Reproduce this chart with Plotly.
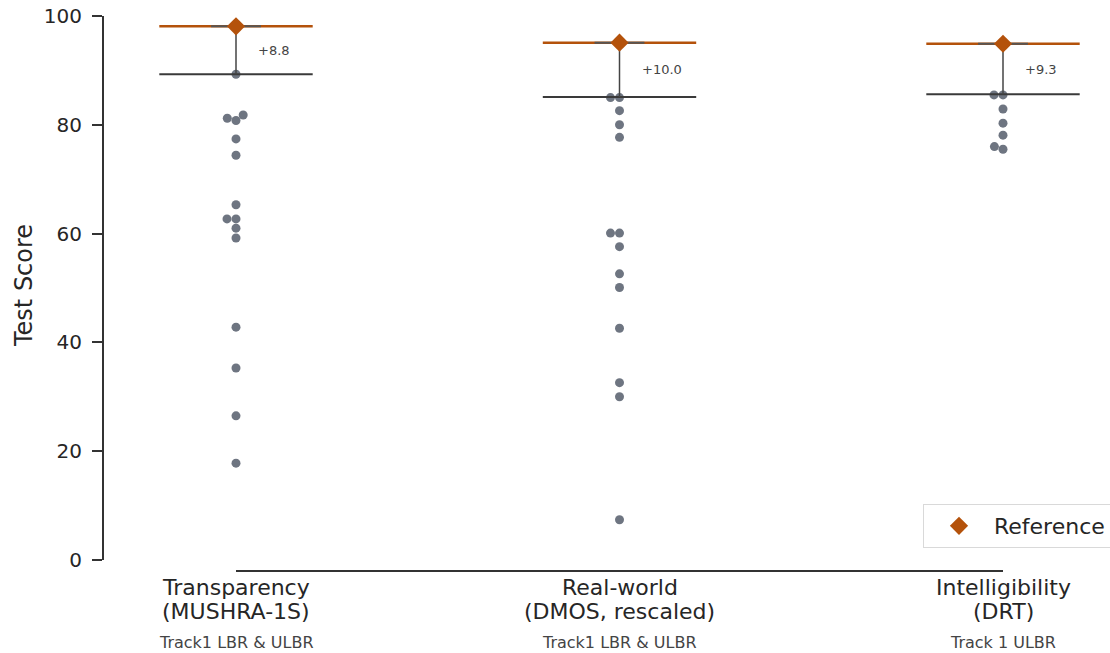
import plotly.graph_objects as go

# ---------------- data ----------------
cat_titles = ["Transparency", "Real-world", "Intelligibility"]
cat_methods = ["(MUSHRA-1S)", "(DMOS, rescaled)", "(DRT)"]
cat_tracks = ["Track1 LBR & ULBR", "Track1 LBR & ULBR", "Track 1 ULBR"]

reference_scores = [98.1, 95.1, 94.9]
best_scores = [89.3, 85.1, 85.6]

transparency_scores = [89.3, 81.8, 81.2, 80.8, 77.4, 74.4, 65.3, 62.7, 62.7,
                       61.0, 59.2, 42.8, 35.3, 26.5, 17.8]
realworld_scores = [85.0, 85.0, 82.6, 80.0, 77.7, 60.1, 60.1, 57.6, 52.6,
                    50.1, 42.6, 32.6, 30.0, 7.4]
intelligibility_scores = [85.5, 85.5, 82.9, 80.3, 78.1, 76.0, 75.5]
system_scores = [transparency_scores, realworld_scores, intelligibility_scores]

# ---------------- styling / layout constants ----------------
W, H = 1110, 653
SCR_LEFT, SCR_TOP, SCR_BOTTOM, SCR_RIGHT = 104, 16, 560, 1100
M_L = SCR_LEFT
M_T = SCR_TOP
M_B = H - SCR_BOTTOM
M_R = W - SCR_RIGHT
PLOT_W = W - M_L - M_R
PLOT_H = H - M_T - M_B
X_RANGE = [-0.3442, -0.3442 + PLOT_W / 383.5]
Y_RANGE = [0, 100]
PX_PER_X = PLOT_W / (X_RANGE[1] - X_RANGE[0])
PX_PER_Y = PLOT_H / (Y_RANGE[1] - Y_RANGE[0])

ORANGE = "#b4520b"
DOT = "#6e7581"
DARK = "#3a3a3a"
TEXT = "#262626"
FONT = "DejaVu Sans"
DOT_D = 9.0  # dot diameter in px


def swarm_offsets(values):
    """Simple beeswarm: returns x offsets (data units) for values."""
    order = sorted(range(len(values)), key=lambda k: values[k])
    placed = []
    offs = [0.0] * len(values)
    for k in order:
        y = values[k] * PX_PER_Y
        cands = [0.0]
        for (px, py) in placed:
            dy = abs(py - y)
            if dy < DOT_D:
                dx = (DOT_D ** 2 - dy ** 2) ** 0.5
                cands += [px - dx, px + dx]
        cands = sorted(set(cands), key=lambda c: (round(abs(c), 6), c))
        for c in cands:
            ok = all(((c - px) ** 2 + (y - py) ** 2) >= DOT_D ** 2 - 1e-6
                     for (px, py) in placed)
            if ok:
                placed.append((c, y))
                offs[k] = c / PX_PER_X
                break
    return offs


def paper_y(screen_y):
    return (SCR_BOTTOM - screen_y) / PLOT_H


def paper_x(screen_x):
    return (screen_x - SCR_LEFT) / PLOT_W


fig = go.Figure()

# swarm points
for i, vals in enumerate(system_scores):
    offs = swarm_offsets(vals)
    fig.add_trace(go.Scatter(
        x=[i + o for o in offs], y=vals, mode="markers",
        marker=dict(color=DOT, size=DOT_D, line=dict(width=0)),
        showlegend=False, hoverinfo="y", cliponaxis=False))

# best-system lines
bx, by = [], []
for i, b in enumerate(best_scores):
    bx += [i - 0.2, i + 0.2, None]
    by += [b, b, None]
fig.add_trace(go.Scatter(x=bx, y=by, mode="lines",
                         line=dict(color=DARK, width=2),
                         showlegend=False, hoverinfo="skip", cliponaxis=False))

# reference lines
rx, ry = [], []
for i, r in enumerate(reference_scores):
    rx += [i - 0.2, i + 0.2, None]
    ry += [r, r, None]
fig.add_trace(go.Scatter(x=rx, y=ry, mode="lines",
                         line=dict(color=ORANGE, width=2.5),
                         showlegend=False, hoverinfo="skip", cliponaxis=False))

# gap (error-bar style) vertical line with cap
vx, vy = [], []
for i, (r, b) in enumerate(zip(reference_scores, best_scores)):
    vx += [i, i, None]
    vy += [r, b, None]
fig.add_trace(go.Scatter(x=vx, y=vy, mode="lines",
                         line=dict(color="#444444", width=1.5),
                         showlegend=False, hoverinfo="skip", cliponaxis=False))
cx, cy = [], []
for i, r in enumerate(reference_scores):
    cx += [i - 0.065, i + 0.065, None]
    cy += [r, r, None]
fig.add_trace(go.Scatter(x=cx, y=cy, mode="lines",
                         line=dict(color="#555555", width=2),
                         showlegend=False, hoverinfo="skip", cliponaxis=False))

# reference markers
fig.add_trace(go.Scatter(
    x=list(range(len(reference_scores))), y=reference_scores, mode="markers",
    marker=dict(symbol="diamond", color=ORANGE, size=14, line=dict(width=0)),
    name="Reference", showlegend=True, cliponaxis=False))

annotations = []
# gap labels
for i, (r, b) in enumerate(zip(reference_scores, best_scores)):
    annotations.append(dict(
        x=i, y=(r + b) / 2, xref="x", yref="y", xshift=20,
        xanchor="left", yanchor="middle", showarrow=False,
        text=f"+{r - b:.1f}", font=dict(family=FONT, size=13, color="#444444")))

# category labels (screen y centres)
for i in range(len(cat_titles)):
    for txt, center, size, col in [(cat_titles[i], 587, 22, TEXT),
                                   (cat_methods[i], 611, 22, TEXT),
                                   (cat_tracks[i], 642, 16, "#444444")]:
        annotations.append(dict(
            x=i, y=0, xref="x", yref="paper", yanchor="middle",
            yshift=SCR_BOTTOM - center, showarrow=False, text=txt,
            font=dict(family=FONT, size=size, color=col)))

# y axis title
annotations.append(dict(
    x=paper_x(24), y=paper_y(286),
    xref="paper", yref="paper", textangle=-90, showarrow=False,
    xanchor="center", yanchor="middle", text="Test Score",
    font=dict(family=FONT, size=24, color=TEXT)))

# x axis line (trimmed to the categories)
shapes = [dict(type="line", xref="x", yref="paper",
               x0=0, x1=len(cat_titles) - 1,
               y0=paper_y(571), y1=paper_y(571),
               line=dict(color="#333333", width=2))]

fig.update_layout(
    width=W, height=H,
    margin=dict(l=M_L, r=M_R, t=M_T, b=M_B, autoexpand=False),
    plot_bgcolor="white", paper_bgcolor="white",
    font=dict(family=FONT, color=TEXT),
    xaxis=dict(range=X_RANGE, visible=False, showgrid=False, zeroline=False),
    yaxis=dict(range=Y_RANGE, tickvals=[0, 20, 40, 60, 80, 100],
               automargin=False, ticklabeloverflow="allow",
               showline=True, linecolor="#333333", linewidth=2,
               ticks="outside", ticklen=10, tickwidth=2, tickcolor="#333333",
               ticklabelstandoff=6,
               tickfont=dict(family=FONT, size=20, color=TEXT),
               showgrid=False, zeroline=False),
    showlegend=True,
    legend=dict(x=paper_x(923), y=paper_y(548),
                xanchor="left", yanchor="bottom",
                bgcolor="white", bordercolor="#d9d9d9", borderwidth=1,
                itemwidth=60,
                font=dict(family=FONT, size=22, color=TEXT)),
    annotations=annotations, shapes=shapes,
)

fig.write_html("out.html",
               config={"displayModeBar": False},
               post_script="document.body.style.margin='0';")
